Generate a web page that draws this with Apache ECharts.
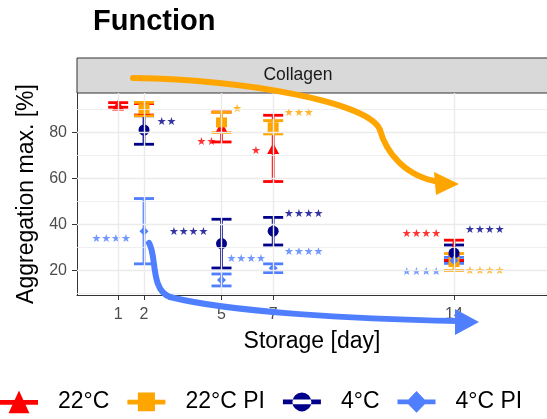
<!DOCTYPE html>
<html><head><meta charset="utf-8">
<script src="https://cdn.jsdelivr.net/npm/echarts@6/dist/echarts.min.js"></script>
<style>html,body{margin:0;padding:0;background:#fff}#c{width:547px;height:419px}</style>
</head><body><div id="c"></div>
<script>
// ---- data ----
const groupNames = ['22°C', '22°C PI', '4°C', '4°C PI'];
const groupColors = ['#FF0000', '#FFA500', '#00008B', '#4F7FFF'];
const groupSymbols = ['triangle', 'rect', 'circle', 'diamond'];

const day22 = [1, 2, 5, 7, 14];
const mean22 = [91.9, 90.0, 82.3, 73.0, 28.7];
const err22 = [1.0, 2.5, 6.5, 14.4, 4.4];

const day22PI = [2, 5, 7, 14];
const mean22PI = [90.1, 84.3, 82.2, 23.6];
const err22PI = [2.9, 4.4, 2.9, 3.7];

const day4 = [2, 5, 7, 14];
const mean4 = [81.0, 31.6, 37.0, 27.5];
const err4 = [6.2, 10.6, 6.0, 3.5];

const day4PI = [2, 5, 7, 14];
const mean4PI = [37.0, 15.8, 20.9, 24.3];
const err4PI = [14.2, 2.6, 1.9, 1.3];

const xTicks = [1, 2, 5, 7, 14];
const yTicks = [20, 40, 60, 80];
const yMinor = [10, 30, 50, 70, 90];

// significance annotations
const starGroup = [2, 3, 0, 1, 0, 1, 2, 3, 2, 3, 0, 2, 3, 1];
const starText  = ['★★','★★★★','★★','★','★','★★★','★★★★','★★★★','★★★★','★★★★','★★★★','★★★★','★★★★','★★★★'];
const starDay   = [2.49, 1.49, 4.80, 5.42, 6.52, 7.42, 4.49, 5.19, 7.42, 7.42, 13.5, 14.43, 13.5, 14.43];
const starVal   = [84.6, 33.6, 75.9, 90.1, 71.6, 88.5, 36.5, 24.9, 44.5, 27.8, 35.8, 37.5, 19.4, 19.8];
const starSide  = ['left','right','right','left','right','left','right','left','left','left','right','left','right','left'];

// ---- build ----
const groups = [
  {d: day22, m: mean22, e: err22},
  {d: day22PI, m: mean22PI, e: err22PI},
  {d: day4, m: mean4, e: err4},
  {d: day4PI, m: mean4PI, e: err4PI}
];
const FONT = '"Liberation Sans", Arial, sans-serif';

function errRender(params, api) {
  const x = api.value(0), m = api.value(1), e = api.value(2);
  const top = api.coord([x, m + e]), bot = api.coord([x, m - e]);
  const hw = 10;
  const style = {stroke: api.visual('color'), lineWidth: 2.8, fill: null};
  return {type: 'group', children: [
    {type: 'line', shape: {x1: top[0], y1: top[1], x2: bot[0], y2: bot[1]}, style: style},
    {type: 'line', shape: {x1: top[0] - hw, y1: top[1], x2: top[0] + hw, y2: top[1]}, style: style},
    {type: 'line', shape: {x1: bot[0] - hw, y1: bot[1], x2: bot[0] + hw, y2: bot[1]}, style: style}
  ]};
}

const series = [];
// grid lines
series.push({
  type: 'scatter', data: [], silent: true, z: 0,
  markLine: {
    silent: true, symbol: 'none', animation: false, label: {show: false},
    data: [
      ...yMinor.map(v => ({yAxis: v, lineStyle: {color: '#EBEBEB', width: 0.8, type: 'solid'}})),
      ...yTicks.map(v => ({yAxis: v, lineStyle: {color: '#EBEBEB', width: 1.4, type: 'solid'}})),
      ...xTicks.map(v => ({xAxis: v, lineStyle: {color: '#EBEBEB', width: 1.4, type: 'solid'}}))
    ]
  }
});
// error bars: drawing order navy, red, orange, light blue
[2, 0, 1, 3].forEach(i => {
  const g = groups[i];
  series.push({
    name: groupNames[i], type: 'custom', z: 2,
    renderItem: errRender,
    itemStyle: {color: groupColors[i]},
    encode: {x: 0, y: 1},
    data: g.d.map((d, k) => [d, g.m[k], g.e[k]])
  });
});
const pointSizes = [[12, 11], [11, 10], [11, 11], [9, 9]];
groups.forEach((g, i) => {
  series.push({
    name: groupNames[i], type: 'scatter', z: 3,
    symbol: groupSymbols[i], symbolSize: pointSizes[i],
    itemStyle: {color: groupColors[i], opacity: 1},
    data: g.d.map((d, k) => [d, g.m[k]])
  });
});
series.push({
  type: 'scatter', z: 4, symbolSize: 0, silent: true,
  data: starText.map((t, k) => ({
    name: t, value: [starDay[k], starVal[k]],
    label: {show: true, position: 'inside', formatter: '{b}', color: groupColors[starGroup[k]],
      align: starSide[k], verticalAlign: 'middle', fontSize: 11, fontFamily: '"DejaVu Sans"'}
  }))
});

const icons = [
  'path://M0 10L40 10L40 15L0 15Z M20 0L31 24L9 24Z',
  'path://M0 10L40 10L40 15L0 15Z M11 2.5L29 2.5L29 22L11 22Z',
  'path://M0 10L40 10L40 15L0 15Z M10 12.5A10 10 0 1 0 30 12.5A10 10 0 1 0 10 12.5Z M20 0L20 0.01Z M20 24.99L20 25Z',
  'path://M0 10L40 10L40 15L0 15Z M20 1L31 12.5L20 24L9 12.5Z M20 0L20 0.01Z M20 24.99L20 25Z'
];

const chart = echarts.init(document.getElementById('c'), null, {renderer: 'canvas'});
chart.setOption({
  animation: false,
  backgroundColor: '#fff',
  textStyle: {fontFamily: FONT},
  title: {text: 'Function', left: 88, top: 2,
    textStyle: {fontSize: 29, fontWeight: 'bold', color: '#000', fontFamily: FONT}},
  grid: {left: 77, right: -2, top: 93, bottom: 124, containLabel: false},
  xAxis: {
    type: 'value', min: -0.594, max: 17.6,
    axisLine: {show: true, onZero: false, lineStyle: {color: '#333', width: 1}},
    axisTick: {show: true, customValues: xTicks, length: 5, lineStyle: {color: '#333', width: 1}},
    axisLabel: {show: true, customValues: xTicks, fontSize: 16, color: '#4D4D4D', margin: 12, fontFamily: FONT},
    splitLine: {show: false},
    name: 'Storage [day]', nameLocation: 'middle', nameGap: 35,
    nameTextStyle: {fontSize: 23, color: '#000', fontFamily: FONT}
  },
  yAxis: {
    type: 'value', min: 9.26, max: 97.09,
    axisLine: {show: true, onZero: false, lineStyle: {color: '#333', width: 1}},
    axisTick: {show: true, customValues: yTicks, length: 5, lineStyle: {color: '#333', width: 1}},
    axisLabel: {show: true, customValues: yTicks, fontSize: 16, color: '#4D4D4D', margin: 10, fontFamily: FONT},
    splitLine: {show: false},
    name: 'Aggregation max. [%]', nameLocation: 'middle', nameGap: 36,
    nameTextStyle: {fontSize: 23, color: '#000', fontFamily: FONT}
  },
  legend: {
    left: 0, top: 390, padding: 0, itemGap: 18, itemWidth: 38, itemHeight: 24,
    textStyle: {fontSize: 23, color: '#000', fontFamily: FONT, padding: [0, 0, 0, 15]},
    selectedMode: false,
    data: groupNames.map((n, i) => ({name: n, icon: icons[i], itemStyle: {color: groupColors[i]}}))
  },
  graphic: [
    {type: 'rect', z: 1, shape: {x: 77, y: 58, width: 480, height: 35},
      style: {fill: '#D9D9D9', stroke: '#333', lineWidth: 1}},
    {type: 'text', z: 2, x: 298, y: 75.5,
      style: {text: 'Collagen', fontSize: 17.5, fill: '#1A1A1A', align: 'center', verticalAlign: 'middle', fontFamily: FONT}},
    {type: 'bezierCurve', z: 100, shape: {x1: 133, y1: 78, cpx1: 250, cpy1: 80, cpx2: 370, cpy2: 103, x2: 380, y2: 130},
      style: {stroke: '#FFA500', lineWidth: 6, fill: null, lineCap: 'round'}},
    {type: 'bezierCurve', z: 100, shape: {x1: 380, y1: 130, cpx1: 386, cpy1: 152, cpx2: 405, cpy2: 177, x2: 440, y2: 182},
      style: {stroke: '#FFA500', lineWidth: 6, fill: null, lineCap: 'round'}},
    {type: 'polygon', z: 100, shape: {points: [[434, 172], [459, 184], [436, 195]]}, style: {fill: '#FFA500'}},
    {type: 'bezierCurve', z: 100, shape: {x1: 149, y1: 243, cpx1: 157, cpy1: 255, cpx2: 150, cpy2: 290, x2: 170, y2: 297},
      style: {stroke: '#4F7FFF', lineWidth: 6, fill: null, lineCap: 'round'}},
    {type: 'bezierCurve', z: 100, shape: {x1: 170, y1: 297, cpx1: 230, cpy1: 312, cpx2: 350, cpy2: 319, x2: 458, y2: 321},
      style: {stroke: '#4F7FFF', lineWidth: 6, fill: null, lineCap: 'round'}},
    {type: 'polygon', z: 100, shape: {points: [[455, 309], [479, 322], [455, 335]]}, style: {fill: '#4F7FFF'}}
  ],
  series: series
});
</script>
</body></html>
